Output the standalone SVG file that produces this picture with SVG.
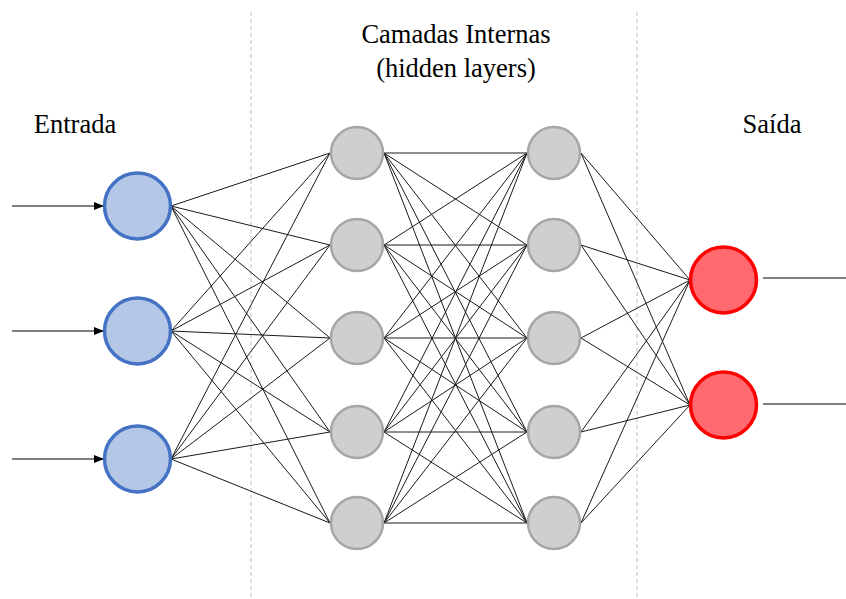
<svg xmlns="http://www.w3.org/2000/svg" width="846" height="599" viewBox="0 0 846 599">
<defs>
<style>
.t{font-family:'Liberation Serif','Times New Roman',serif;font-size:26.5px;fill:#000;text-anchor:middle}
.sep{stroke:#BFBFBF;stroke-width:1;stroke-dasharray:4 3;fill:none}
.c{stroke:#1a1a1a;stroke-width:1;fill:none}
.in{fill:#B4C7E7;stroke:#4472C4;stroke-width:3.5}
.hid{fill:#D0CECE;stroke:#A6A6A6;stroke-width:2.5}
.out{fill:#FF6A71;stroke:#FF0000;stroke-width:3.5}
.io{stroke:#000;stroke-width:1;fill:none}
</style>
<marker id="ah" markerWidth="10" markerHeight="8" refX="9" refY="4" orient="auto" markerUnits="userSpaceOnUse">
<path d="M0,0 L10,4 L0,8 Z" fill="#000"/>
</marker>
</defs>
<rect width="846" height="599" fill="#fff"/>
<line class="sep" x1="251" y1="12" x2="251" y2="599"/>
<line class="sep" x1="637" y1="12" x2="637" y2="599"/>
<text class="t" x="75" y="133" font-family="Liberation Serif, serif">Entrada</text>
<text class="t" x="456" y="43" font-family="Liberation Serif, serif">Camadas Internas</text>
<text class="t" x="456" y="77" font-family="Liberation Serif, serif">(hidden layers)</text>
<text class="t" x="772" y="133" font-family="Liberation Serif, serif">Saída</text>
<g id="connectors">
<line class="io" x1="12" y1="206" x2="103" y2="206" marker-end="url(#ah)"/>
<line class="io" x1="12" y1="331" x2="103" y2="331" marker-end="url(#ah)"/>
<line class="io" x1="12" y1="459" x2="103" y2="459" marker-end="url(#ah)"/>
<line class="io" x1="763" y1="278" x2="846" y2="278"/>
<line class="io" x1="763" y1="404" x2="846" y2="404"/>
<g class="c">
<path d="M171,206L330,153M171,206L330,245M171,206L330,338M171,206L330,432M171,206L330,523"/>
<path d="M171,331L330,153M171,331L330,245M171,331L330,338M171,331L330,432M171,331L330,523"/>
<path d="M171,459L330,153M171,459L330,245M171,459L330,338M171,459L330,432M171,459L330,523"/>
<path d="M384,153L527,153M384,153L527,245M384,153L527,338M384,153L527,432M384,153L527,523"/>
<path d="M384,245L527,153M384,245L527,245M384,245L527,338M384,245L527,432M384,245L527,523"/>
<path d="M384,338L527,153M384,338L527,245M384,338L527,338M384,338L527,432M384,338L527,523"/>
<path d="M384,432L527,153M384,432L527,245M384,432L527,338M384,432L527,432M384,432L527,523"/>
<path d="M384,523L527,153M384,523L527,245M384,523L527,338M384,523L527,432M384,523L527,523"/>
<path d="M581,153L690,280M581,153L690,405"/>
<path d="M581,245L690,280M581,245L690,405"/>
<path d="M581,338L690,280M581,338L690,405"/>
<path d="M581,432L690,280M581,432L690,405"/>
<path d="M581,523L690,280M581,523L690,405"/>
</g>
</g>
<g id="in1"><circle class="in" cx="137.5" cy="206" r="33"/></g>
<g id="in2"><circle class="in" cx="137.5" cy="331" r="33"/></g>
<g id="in3"><circle class="in" cx="137.5" cy="459" r="33"/></g>
<g id="h1a"><circle class="hid" cx="357" cy="153" r="26"/></g>
<g id="h1b"><circle class="hid" cx="357" cy="245" r="26"/></g>
<g id="h1c"><circle class="hid" cx="357" cy="338" r="26"/></g>
<g id="h1d"><circle class="hid" cx="357" cy="432" r="26"/></g>
<g id="h1e"><circle class="hid" cx="357" cy="523" r="26"/></g>
<g id="h2a"><circle class="hid" cx="554" cy="153" r="26"/></g>
<g id="h2b"><circle class="hid" cx="554" cy="245" r="26"/></g>
<g id="h2c"><circle class="hid" cx="554" cy="338" r="26"/></g>
<g id="h2d"><circle class="hid" cx="554" cy="432" r="26"/></g>
<g id="h2e"><circle class="hid" cx="554" cy="523" r="26"/></g>
<g id="out1"><circle class="out" cx="723.5" cy="280" r="33"/></g>
<g id="out2"><circle class="out" cx="723.5" cy="405" r="33"/></g>
</svg>
